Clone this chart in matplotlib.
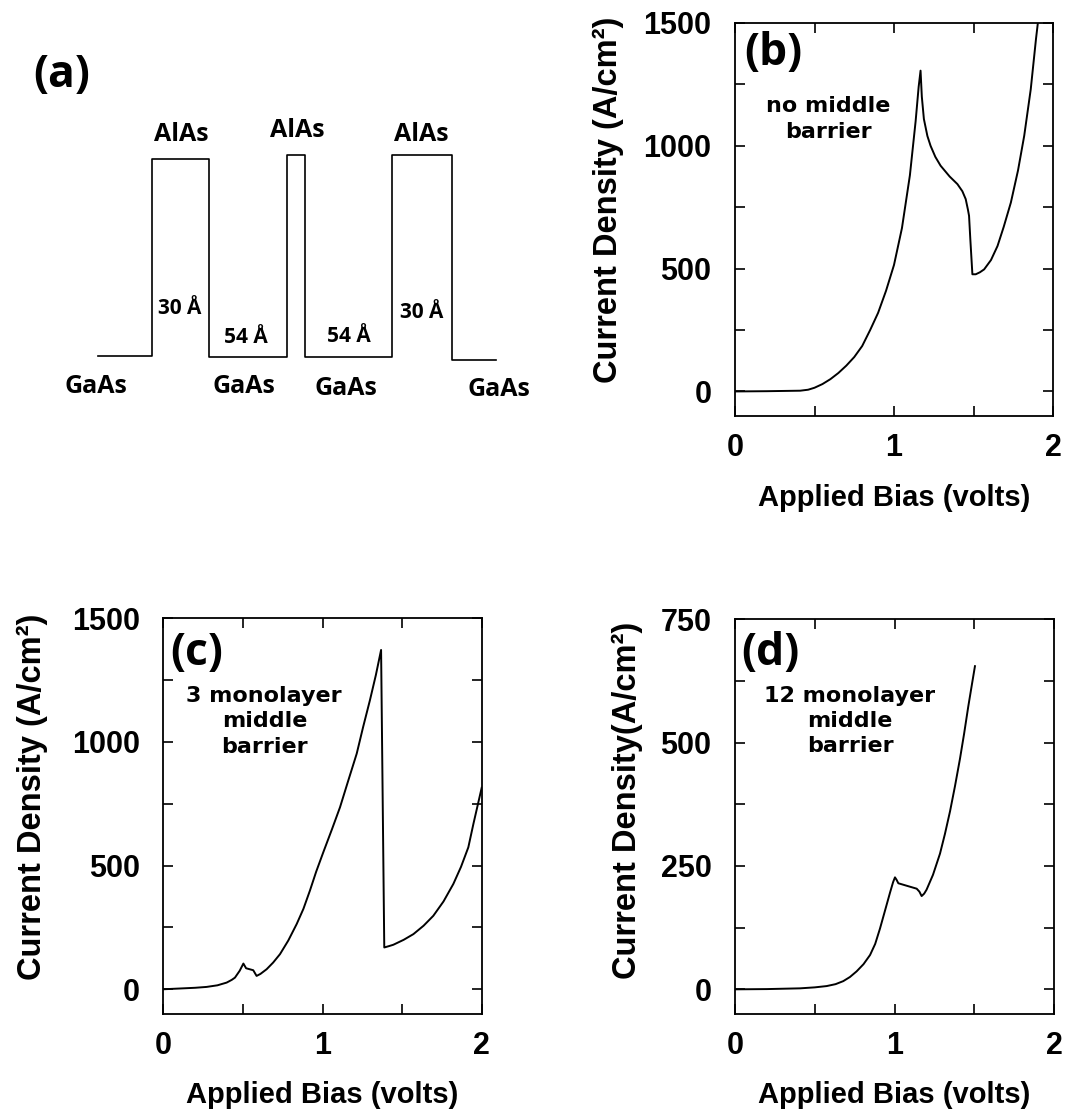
import matplotlib
matplotlib.use("Agg")
import matplotlib.pyplot as plt
from matplotlib.ticker import MultipleLocator

# ---------------- data ----------------
# (a) schematic conduction-band profile (schematic units, y grows downward)
band_edges = [98, 152, 209, 287, 305, 392, 452, 496]
band_levels = [356, 159, 357, 155, 357, 155, 360]
top_labels = ["AlAs", "AlAs", "AlAs"]
bottom_labels = ["GaAs", "GaAs", "GaAs", "GaAs"]
width_labels = ["30 Å", "54 Å", "54 Å", "30 Å"]

# (b) no middle barrier
vb = [0.0, 0.2, 0.41, 0.46, 0.5, 0.55, 0.6, 0.65, 0.7, 0.75, 0.8, 0.85, 0.9,
      0.95, 1.0, 1.05, 1.1, 1.136, 1.155, 1.167, 1.175, 1.188, 1.21, 1.23,
      1.26, 1.293, 1.35, 1.399, 1.43, 1.451, 1.465, 1.472, 1.48, 1.493, 1.514,
      1.54, 1.567, 1.61, 1.651, 1.69, 1.735, 1.78, 1.819, 1.86, 1.893, 1.93]
jb = [0, 1, 3, 7, 15, 30, 50, 75, 105, 140, 185, 250, 320,
      410, 515, 665, 880, 1100, 1240, 1306, 1200, 1109, 1040, 1000,
      955, 919, 875, 844, 815, 783, 740, 715, 620, 477, 477,
      485, 497, 535, 592, 670, 769, 900, 1041, 1230, 1435, 1640]

# (c) 3 monolayer middle barrier
vc = [0.0, 0.1, 0.2, 0.272, 0.34, 0.398, 0.43, 0.45, 0.48, 0.503, 0.52, 0.565,
      0.586, 0.61, 0.649, 0.69, 0.733, 0.785, 0.838, 0.88, 0.921, 0.96, 1.005,
      1.06, 1.11, 1.16, 1.215, 1.255, 1.298, 1.335, 1.368, 1.388, 1.42, 1.445,
      1.51, 1.571, 1.635, 1.696, 1.76, 1.822, 1.87, 1.916, 1.948, 2.0]
jc = [0, 3, 6, 9.5, 16, 27, 38, 47, 75, 104, 85, 77,
      54, 62, 81, 108, 142, 197, 264, 325, 399, 475, 554,
      648, 736, 840, 953, 1060, 1169, 1270, 1372, 169, 175, 180,
      200, 223, 257, 297, 355, 426, 495, 574, 669, 815]

# (d) 12 monolayer middle barrier
vd = [0.0, 0.2, 0.407, 0.5, 0.574, 0.63, 0.678, 0.72, 0.762, 0.805, 0.846,
      0.878, 0.908, 0.94, 0.971, 0.99, 1.002, 1.012, 1.023, 1.075, 1.138,
      1.155, 1.169, 1.185, 1.2, 1.24, 1.284, 1.315, 1.347, 1.378, 1.409,
      1.435, 1.461, 1.485, 1.503]
jd = [0, 0.5, 2, 4, 6.6, 10.5, 16.6, 25, 36.5, 51, 69.6,
      92, 123, 160, 196, 217, 227, 222, 215, 210, 204,
      198, 189, 194, 202, 232, 275, 315, 361, 412, 467,
      518, 573, 620, 655]

x_ticks = [0, 1, 2]
y_ticks_bc = [0, 500, 1000, 1500]
y_ticks_d = [0, 250, 500, 750]

# ---------------- layout ----------------
W, H = 1069, 1113
plt.rcParams['font.family'] = ['Liberation Sans', 'DejaVu Sans']
plt.rcParams['font.weight'] = 'bold'
plt.rcParams['axes.linewidth'] = 1.3

fig = plt.figure(figsize=(W / 100, H / 100), dpi=100)
fig.patch.set_facecolor('white')


def rect(l, r, t, b):
    return [l / W, 1 - b / H, (r - l) / W, (b - t) / H]


def fx(px):
    return px / W


def fy(py):
    return 1 - py / H


# ---- panel (a) ----
axa = fig.add_axes([0, 0, 1, 1])
axa.set_xlim(0, W)
axa.set_ylim(H, 0)
axa.axis('off')
axa.patch.set_visible(False)
px, py = [], []
for i, lev in enumerate(band_levels):
    px += [band_edges[i], band_edges[i + 1]]
    py += [lev, lev]
axa.plot(px, py, color='black', lw=1.2)

lab_font = dict(family=['Open Sans', 'DejaVu Sans'], weight='bold', color='black')
axa.text(62, 75, "(a)", fontsize=32, ha='center', va='center', **lab_font)
for (x, y), s in zip([(181, 141), (297.5, 137), (421, 141)], top_labels):
    axa.text(x, y, s, fontsize=18, ha='center', va='baseline', **lab_font)
for (x, y), s in zip([(96, 393), (244, 393), (346, 395), (499, 396)], bottom_labels):
    axa.text(x, y, s, fontsize=18, ha='center', va='baseline', **lab_font)
for (x, y), s in zip([(180, 314), (246, 343), (349, 342), (422, 318)], width_labels):
    axa.text(x, y, s, fontsize=15, ha='center', va='baseline', **lab_font)


def style_axes(ax, ylim, yticks, yminor):
    ax.set_xlim(0, 2)
    ax.set_ylim(*ylim)
    ax.set_xticks(x_ticks)
    ax.set_yticks(yticks)
    ax.xaxis.set_minor_locator(MultipleLocator(0.5))
    ax.yaxis.set_minor_locator(MultipleLocator(yminor))
    ax.tick_params(which='both', direction='in', top=True, right=True,
                   length=7, width=1.2, labelsize=22)
    ax.tick_params(axis='y', which='major', pad=17)
    ax.tick_params(axis='x', which='major', pad=12)
    for lab in ax.get_xticklabels() + ax.get_yticklabels():
        lab.set_fontweight('bold')


desc_font = dict(family=['DejaVu Sans'], weight='bold', fontsize=16,
                 ha='center', va='baseline')
panel_font = dict(family=['Open Sans', 'DejaVu Sans'], weight='bold',
                  fontsize=32, ha='center', va='center')
ylab_font = dict(fontsize=23.5, weight='bold', rotation=90, ha='center', va='center')
xlab_font = dict(fontsize=21, weight='bold', ha='center', va='center')

# ---- panel (b) ----
axb = fig.add_axes(rect(735, 1053, 23, 416))
axb.plot(vb, jb, color='black', lw=1.4)
style_axes(axb, (-100, 1500), y_ticks_bc, 250)
fig.text(fx(773), fy(54), "(b)", **panel_font)
fig.text(fx(828), fy(111.7), "no middle", **desc_font)
fig.text(fx(828), fy(138), "barrier", **desc_font)
fig.text(fx(608), fy(200), "Current Density (A/cm²)", **ylab_font)
fig.text(fx(894), fy(498), "Applied Bias (volts)", **xlab_font)

# ---- panel (c) ----
axc = fig.add_axes(rect(163.3, 481.7, 618.3, 1014))
axc.plot(vc, jc, color='black', lw=1.4)
style_axes(axc, (-100, 1500), y_ticks_bc, 250)
fig.text(fx(197), fy(653), "(c)", **panel_font)
fig.text(fx(264), fy(701.7), "3 monolayer", **desc_font)
fig.text(fx(265), fy(727), "middle", **desc_font)
fig.text(fx(264), fy(752.7), "barrier", **desc_font)
fig.text(fx(32), fy(797), "Current Density (A/cm²)", **ylab_font)
fig.text(fx(322.5), fy(1095), "Applied Bias (volts)", **xlab_font)

# ---- panel (d) ----
axd = fig.add_axes(rect(735, 1054.3, 619.3, 1014))
axd.plot(vd, jd, color='black', lw=1.4)
style_axes(axd, (-50, 750), y_ticks_d, 125)
fig.text(fx(770), fy(653), "(d)", **panel_font)
fig.text(fx(850), fy(702), "12 monolayer", **desc_font)
fig.text(fx(850), fy(727), "middle", **desc_font)
fig.text(fx(850), fy(752.5), "barrier", **desc_font)
fig.text(fx(627), fy(800), "Current Density(A/cm²)", **ylab_font)
fig.text(fx(894.5), fy(1095), "Applied Bias (volts)", **xlab_font)

fig.savefig("out.png", dpi=100, facecolor='white')
